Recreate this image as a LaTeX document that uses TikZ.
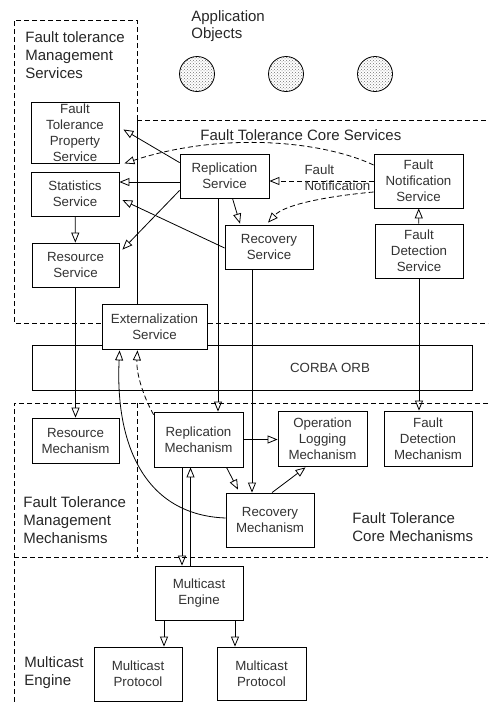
\documentclass[tikz,border=0pt]{standalone}
\usepackage{fontspec}
\setmainfont{Liberation Sans}
\usetikzlibrary{arrows.meta,calc,patterns,positioning}

\begin{document}
\begin{tikzpicture}[x=1pt,y=-1pt,>={Triangle[open,length=10pt,width=8pt]},line width=0.8pt,
		box/.style={draw=black,
				rectangle,
				fill=white,
				text=black!80,
				font=\fontsize{13.3}{16}\selectfont,
				inner sep=0pt,
				minimum width=88pt,
				minimum height=44pt,
				align=center},
		region/.style={dash pattern=on 5pt off 3pt},
		lbl/.style={align=left,anchor=west,inner sep=0pt,text=black!85,font=\fontsize{15}{18}\selectfont},
		obj/.style={circle,draw,minimum size=35pt,pattern=crosshatch dots,pattern color=black!55}]
			\useasboundingbox (0,0) rectangle (488,704);
			% regions
			\draw[region] (137,120) -- (137,20) -- (14,20) -- (14,323) -- (488,323);
			\draw (137,120) -- (137,304);
			\draw[region] (137,120) -- (488,120);
			\draw[region] (488,403) -- (14,403) -- (14,704);
			\draw[region] (137,403) -- (137,557);
			\draw[region] (14,557) -- (488,557);
			\node[lbl] (msl) at (25,55) {Fault tolerance\\Management\\Services};
			\node[lbl] (csl) at (200,135) {Fault Tolerance Core Services};
			\node[lbl] (mml) at (23,520) {Fault Tolerance\\Management\\Mechanisms};
			\node[lbl] (cml) at (352,527.5) {Fault Tolerance\\Core Mechanisms};
			\node[lbl] (mel) at (24,673) {Multicast\\Engine};
			\node[lbl,font=\fontsize{15}{17}\selectfont] (aol) at (191,26.5) {Application\\Objects};
			\node[obj] (o1) at (197,74) {};
			\node[obj] (o2) at (286,74) {};
			\node[obj] (o3) at (375,74) {};
			% ORB
			\node[draw,minimum width=440pt,minimum height=45pt,inner sep=0pt] (orb) at (252,367.5) {};
			\node[text=black!80,font=\fontsize{13.3}{16}\selectfont] (orbl) at (330,368) {CORBA ORB};
			% services
			\node[box,minimum height=61pt] (ftps) at (75,132.5) {Fault\\Tolerance\\Property\\Service};
			\node[box] (stat) at (75,194) {Statistics\\Service};
			\node[box,minimum width=87pt] (ress) at (75.5,265) {Resource\\Service};
			\node[box,minimum width=89pt] (reps) at (224.5,176) {Replication\\Service};
			\node[box] (recs) at (269,247) {Recovery\\Service};
			\node[box,minimum width=89pt,minimum height=54pt] (fns) at (418.5,181) {Fault\\Notification\\Service};
			\node[box,minimum height=54pt] (fds) at (419,251) {Fault\\Detection\\Service};
			\node[box,minimum width=105pt,minimum height=45pt] (exts) at (154.5,326.5) {Externalization\\Service};
			% mechanisms
			\node[box,minimum width=87pt,minimum height=45pt] (resm) at (75.5,440.5) {Resource\\Mechanism};
			\node[box,minimum width=89pt,minimum height=55pt] (repm) at (198.5,439.5) {Replication\\Mechanism};
			\node[box,minimum width=89pt,minimum height=55pt] (oplm) at (322.5,438.5) {Operation\\Logging\\Mechanism};
			\node[box,minimum height=55pt] (fdm) at (428,438.5) {Fault\\Detection\\Mechanism};
			\node[box,minimum height=54pt] (recm) at (270,520) {Recovery\\Mechanism};
			\node[box,minimum height=54pt] (mce) at (199,593) {Multicast\\Engine};
			\node[box,minimum height=54pt] (mcp1) at (138,674) {Multicast\\Protocol};
			\node[box,minimum width=89pt,minimum height=53pt] (mcp2) at (261.5,673.5) {Multicast\\Protocol};
			% connectors
			\draw[->] ($(reps.north west)+(0,9)$) -- ($(ftps.east)+(4,-3)$);
			\draw[->,region] ($(fns.west)+(0,-16)$) .. controls (320,140) and (220,132) .. ($(ftps.south east)+(5,0)$);
			\draw[->] ($(reps.west)+(0,6)$) -- ($(stat.east)+(0,-12)$);
			\draw[->] ($(recs.west)+(0,1)$) -- ($(stat.east)+(3,6)$);
			\draw[->] ($(reps.south west)+(0,-8)$) -- ($(ress.north east)+(3,7)$);
			\draw[->] (stat) -- (ress);
			\draw[->] ($(reps.south)+(8,0)$) -- ($(recs.north)+(-29,-1)$);
			\draw[->,region] ($(fns.west)+(0,11)$) .. controls (330,196) and (285,204) .. ($(recs.north)+(-1,-2)$);
			\draw[->,region] (fns.west) -- ($(reps.east)+(0,5)$)node[midway,xshift=16pt,yshift=3.5pt,font=\fontsize{13.3}{16}\selectfont,text=black!80,align=left](fnl){Fault\\Notification};
			\draw[->] (fds) -- (fns);
			\draw[->] (fds.south) -- (fds.south |- fdm.north);
			\draw[->] (ress.south) -- (ress.south |- resm.north);
			\draw[->] ([xshift=-6.5pt]reps.south) -- ([xshift=-6.5pt]reps.south |- repm.north);
			\draw[->] ([xshift=-17pt]recs.south) -- ([xshift=-17pt]recs.south |- recm.north);
			\draw[->] (repm.east) -- (repm.east -| oplm.west);
			\draw[->] ($(repm.south)+(28,0)$) -- ($(recm.north)+(-32,-3)$);
			\draw[->] ($(recm.north)+(2,0)$) -- ($(oplm.south)+(-17,1)$);
			\draw[->] ([xshift=-16.5pt]repm.south) -- ([xshift=-16.5pt]repm.south |- mce.north);
			\draw[->] ([xshift=-8.5pt]mce.north) -- ([xshift=-8.5pt]mce.north |- repm.south);
			\draw[->] ([xshift=-35pt]mce.south) -- ([xshift=-35pt]mce.south |- mcp1.north);
			\draw[->] ([xshift=36pt]mce.south) -- ([xshift=36pt]mce.south |- mcp2.north);
			\draw[->] ($(recm.west)+(0,-2)$) .. controls (145,515) and (115,445) .. ($(exts.south west)+(18,1)$);
			\draw[->,region] ($(repm.north west)+(0,3)$) .. controls (145,400) and (136,375) .. ($(exts.south)+(-17,1)$);
		\end{tikzpicture}
\end{document}
